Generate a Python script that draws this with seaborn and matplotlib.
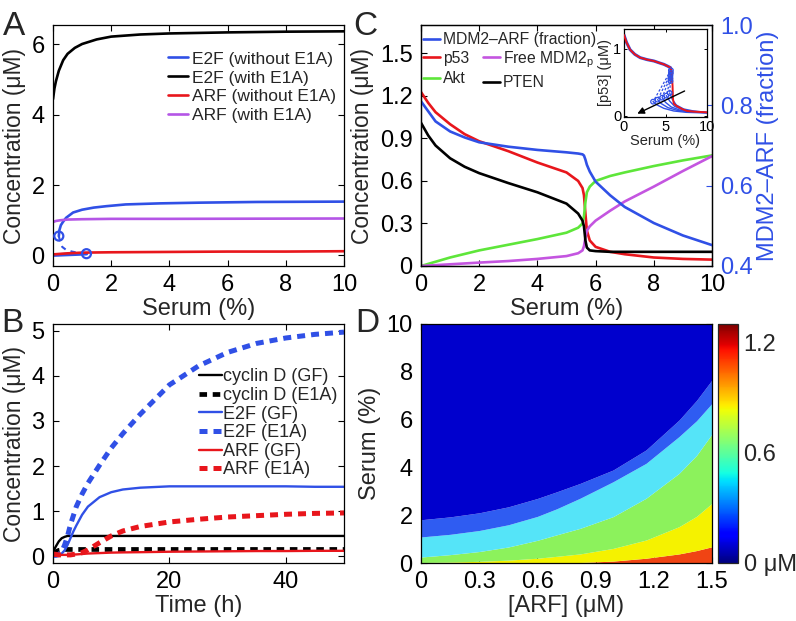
import matplotlib
matplotlib.use("Agg")
import matplotlib.pyplot as plt
import seaborn as sns
from matplotlib.cm import ScalarMappable
from matplotlib.colors import Normalize

BLUE = "#3050e6"
RED = "#e8161c"
BLACK = "#000000"
PURPLE = "#b455e6"
MAGENTA = "#c455e0"
GREEN = "#5ee63a"

# ---------------- panel A: steady state vs serum ----------------
A_E2F_E1A_X = [0, 0.05, 0.1, 0.2, 0.35, 0.5, 0.75, 1, 1.5, 2, 3, 4, 6, 8, 10]
A_E2F_E1A_Y = [4.44, 4.75, 4.95, 5.25, 5.55, 5.73, 5.9, 6.01, 6.14, 6.22, 6.28, 6.31, 6.34, 6.36, 6.37]
A_E2F_UP_X = [0.2, 0.22, 0.27, 0.34, 0.45, 0.69, 1.0, 1.4, 1.83, 2.5, 3.67, 5, 7, 10]
A_E2F_UP_Y = [0.55, 0.72, 0.86, 0.95, 1.07, 1.22, 1.3, 1.36, 1.4, 1.45, 1.48, 1.5, 1.52, 1.53]
A_E2F_MID_X = [0.2, 0.25, 0.32, 0.45, 0.65, 0.9, 1.15]
A_E2F_MID_Y = [0.55, 0.38, 0.24, 0.16, 0.11, 0.07, 0.05]
A_E2F_LOW_X = [0, 0.3, 0.6, 0.9, 1.15]
A_E2F_LOW_Y = [0.01, 0.02, 0.03, 0.04, 0.05]
A_KNEE_X = [0.2, 1.15]
A_KNEE_Y = [0.55, 0.05]
A_ARF_X = [0, 0.5, 1, 2, 4, 6, 8, 10]
A_ARF_Y = [0.03, 0.06, 0.08, 0.09, 0.1, 0.11, 0.11, 0.12]
A_ARF_E1A_X = [0, 0.1, 0.25, 0.5, 1, 2, 4, 10]
A_ARF_E1A_Y = [0.95, 0.98, 1.0, 1.02, 1.03, 1.04, 1.04, 1.05]

# ---------------- panel B: time courses ----------------
B_TIME = [0, 0.5, 1, 1.5, 2, 2.5, 3, 3.5, 4, 5, 6, 8, 10, 12, 15, 20, 25, 30, 35, 40, 45, 50]
B_CYCD_GF = [0.1, 0.22, 0.33, 0.4, 0.43, 0.45, 0.45, 0.45, 0.45, 0.45, 0.45, 0.45, 0.45, 0.45, 0.45, 0.45, 0.45, 0.45, 0.45, 0.45, 0.45, 0.45]
B_CYCD_E1A = [0.05, 0.1, 0.13, 0.14, 0.15, 0.15, 0.15, 0.15, 0.15, 0.15, 0.15, 0.15, 0.15, 0.15, 0.15, 0.15, 0.15, 0.15, 0.15, 0.15, 0.15, 0.15]
B_E2F_GF = [0.02, 0.02, 0.03, 0.06, 0.13, 0.25, 0.4, 0.55, 0.68, 0.92, 1.1, 1.31, 1.42, 1.48, 1.52, 1.55, 1.55, 1.55, 1.55, 1.55, 1.54, 1.54]
B_E2F_E1A = [0.02, 0.02, 0.04, 0.1, 0.25, 0.45, 0.7, 0.9, 1.1, 1.38, 1.62, 2.02, 2.4, 2.72, 3.15, 3.8, 4.22, 4.52, 4.72, 4.84, 4.92, 4.97]
B_ARF_GF = [0.02, 0.02, 0.02, 0.03, 0.03, 0.03, 0.04, 0.04, 0.04, 0.05, 0.06, 0.07, 0.08, 0.085, 0.09, 0.1, 0.105, 0.11, 0.115, 0.115, 0.12, 0.12]
B_ARF_E1A = [0.05, 0.04, 0.03, 0.03, 0.03, 0.03, 0.03, 0.04, 0.05, 0.08, 0.14, 0.3, 0.45, 0.56, 0.66, 0.76, 0.82, 0.87, 0.9, 0.93, 0.95, 0.96]

# ---------------- panel C: serum dependence ----------------
C_SERUM = [0, 0.25, 0.5, 1, 1.5, 2, 3, 4, 5, 5.4, 5.55, 5.6, 5.65, 5.7, 5.8, 6, 6.5, 7, 8, 9, 10]
C_P53 = [1.227, 1.15, 1.085, 1.0, 0.93, 0.88, 0.81, 0.73, 0.66, 0.6, 0.55, 0.5, 0.37, 0.25, 0.18, 0.135, 0.1, 0.083, 0.06, 0.05, 0.045]
C_PTEN = [1.01, 0.92, 0.85, 0.76, 0.7, 0.655, 0.585, 0.52, 0.44, 0.37, 0.32, 0.28, 0.18, 0.13, 0.11, 0.105, 0.1, 0.1, 0.1, 0.1, 0.1]
C_AKT = [0.0, 0.015, 0.03, 0.06, 0.085, 0.11, 0.15, 0.19, 0.235, 0.27, 0.3, 0.35, 0.45, 0.52, 0.56, 0.6, 0.635, 0.66, 0.705, 0.745, 0.78]
C_MDM2P = [0.0, 0.003, 0.006, 0.012, 0.018, 0.024, 0.035, 0.05, 0.07, 0.09, 0.11, 0.14, 0.2, 0.25, 0.28, 0.32, 0.39, 0.455, 0.56, 0.67, 0.775]
C_MDM2_ARF = [0.81, 0.785, 0.76, 0.735, 0.72, 0.708, 0.697, 0.689, 0.683, 0.68, 0.678, 0.675, 0.665, 0.652, 0.635, 0.61, 0.576, 0.547, 0.507, 0.476, 0.452]

# inset of C
INS_RED_X = [0, 0.3, 0.73, 1.3, 1.95, 2.8, 3.6, 4.3, 4.8, 5.3, 5.6, 5.75, 5.85, 5.9, 6.0, 6.4, 7.0, 7.6, 8.5, 10]
INS_RED_Y = [1.21, 1.1, 0.99, 0.92, 0.87, 0.84, 0.82, 0.79, 0.77, 0.74, 0.72, 0.65, 0.45, 0.25, 0.18, 0.14, 0.1, 0.07, 0.06, 0.05]
INS_UP_X = [0, 0.3, 0.73, 1.3, 1.95, 2.8, 3.6, 4.3, 4.8, 5.3, 5.6, 5.65, 5.65]
INS_UP_Y = [1.21, 1.1, 0.99, 0.92, 0.87, 0.84, 0.82, 0.79, 0.77, 0.74, 0.72, 0.68, 0.52]
INS_UPPER_KNEE_X = [5.65, 5.65, 5.6, 5.6, 5.6]
INS_UPPER_KNEE_Y = [0.68, 0.64, 0.6, 0.56, 0.52]
INS_LOWER_KNEE_X = [3.5, 4.05, 4.6, 5.1, 5.5]
INS_LOWER_KNEE_Y = [0.21, 0.24, 0.27, 0.3, 0.34]
INS_LOW_X = [
    [3.5, 4.0, 4.8, 6.0, 7.5, 10],
    [4.05, 4.5, 5.3, 6.4, 7.8, 10],
    [4.6, 5.0, 5.7, 6.7, 8.0, 10],
    [5.1, 5.5, 6.1, 7.0, 8.2, 10],
    [5.5, 5.8, 6.3, 7.2, 8.4, 10],
]
INS_LOW_Y = [
    [0.21, 0.16, 0.11, 0.07, 0.05, 0.04],
    [0.24, 0.18, 0.12, 0.08, 0.055, 0.045],
    [0.27, 0.2, 0.13, 0.085, 0.06, 0.045],
    [0.3, 0.22, 0.14, 0.09, 0.065, 0.05],
    [0.34, 0.25, 0.16, 0.1, 0.07, 0.05],
]

# ---------------- panel D: p53 contour bands ----------------
D_ARF = [0, 0.15, 0.3, 0.45, 0.6, 0.7, 0.82, 0.99, 1.16, 1.33, 1.42, 1.5]
# serum at which p53 crosses each level (negative = band absent)
D_B02 = [1.81, 1.93, 2.1, 2.35, 2.7, 2.98, 3.33, 3.89, 4.73, 5.98, 6.8, 7.66]
D_B04 = [1.09, 1.2, 1.36, 1.6, 1.95, 2.27, 2.71, 3.4, 4.17, 5.29, 5.95, 6.68]
D_B06 = [0.25, 0.35, 0.48, 0.67, 0.95, 1.18, 1.45, 1.94, 2.71, 3.75, 4.5, 5.4]
D_B08 = [0.02, 0.04, 0.07, 0.12, 0.2, 0.28, 0.38, 0.61, 0.96, 1.52, 1.95, 2.5]
D_B10 = [-0.1, -0.1, -0.1, -0.05, 0.0, 0.01, 0.02, 0.08, 0.2, 0.38, 0.52, 0.68]
# band colours, from the lowest-serum band (highest p53) to the top band
D_BAND_COLORS = ["#f04414", "#f5f200", "#8cf25c", "#55e4f8", "#2f5cf2", "#0000cd"]
D_VMAX = 1.3

W, H = 796, 621


def box(left, top, right, bottom):
    return [left / W, 1 - bottom / H, (right - left) / W, (bottom - top) / H]


def draw(ax, x, y, color, lw, label=None, dashes=None, zorder=2):
    sns.lineplot(x=x, y=y, ax=ax, color=color, linewidth=lw, label=label,
                 sort=False, estimator=None, legend=False, zorder=zorder)
    line = ax.lines[-1]
    if dashes is not None:
        line.set_dashes(dashes)
    return line


def circles(ax, x, y, size, lw):
    sns.scatterplot(x=x, y=y, ax=ax, s=size, legend=False, zorder=6)
    pts = ax.collections[-1]
    pts.set_facecolor("none")
    pts.set_edgecolor(BLUE)
    pts.set_linewidth(lw)


def style(ax, right=True):
    ax.tick_params(direction="in", top=True, right=right, length=4, width=0.8,
                   labelsize=17, pad=6, colors="black")
    for s in ax.spines.values():
        s.set_linewidth(0.9)
        s.set_color("black")


sns.set_theme(style="ticks")
plt.rcParams["font.family"] = ["Liberation Sans", "DejaVu Sans"]
plt.rcParams["mathtext.default"] = "regular"

fig = plt.figure(figsize=(W / 100, H / 100), dpi=100)

# ---- A ----
axA = fig.add_axes(box(53, 25, 344, 266))
draw(axA, A_E2F_UP_X, A_E2F_UP_Y, BLUE, 1.9, "E2F (without E1A)")
draw(axA, A_E2F_E1A_X, A_E2F_E1A_Y, BLACK, 1.9, "E2F (with E1A)")
draw(axA, A_E2F_MID_X, A_E2F_MID_Y, BLUE, 1.5, dashes=(2.5, 2.5))
draw(axA, A_E2F_LOW_X, A_E2F_LOW_Y, BLUE, 2.6)
draw(axA, A_ARF_X, A_ARF_Y, RED, 1.9, "ARF (without E1A)")
draw(axA, A_ARF_E1A_X, A_ARF_E1A_Y, PURPLE, 1.9, "ARF (with E1A)")
circles(axA, A_KNEE_X, A_KNEE_Y, 42, 1.6)
axA.set_xlim(0, 10)
axA.set_ylim(-0.3, 6.55)
axA.set_xticks([0, 2, 4, 6, 8, 10])
axA.set_yticks([0, 2, 4, 6])
style(axA)
axA.set_xlabel("Serum (%)", fontsize=17, labelpad=1)
axA.set_ylabel("Concentration (μM)", fontsize=16.5, labelpad=4)
hA = [l for l in axA.lines if not l.get_label().startswith("_")]
axA.legend(handles=hA, loc="center left", bbox_to_anchor=(0.395, 0.741),
           frameon=False, fontsize=12.5, handlelength=1.15, handletextpad=0.25,
           labelspacing=0.22, borderpad=0, borderaxespad=0)

# ---- B ----
axB = fig.add_axes(box(53, 324, 344, 563))
draw(axB, B_TIME, B_CYCD_GF, BLACK, 1.7, "cyclin D (GF)")
draw(axB, B_TIME, B_CYCD_E1A, BLACK, 3.4, "cyclin D (E1A)", dashes=(1.6, 1.2))
draw(axB, B_TIME, B_E2F_GF, BLUE, 1.7, "E2F (GF)")
draw(axB, B_TIME, B_E2F_E1A, BLUE, 3.6, "E2F (E1A)", dashes=(1.6, 1.2))
draw(axB, B_TIME, B_ARF_GF, RED, 1.7, "ARF (GF)")
draw(axB, B_TIME, B_ARF_E1A, RED, 3.6, "ARF (E1A)", dashes=(1.6, 1.2))
axB.set_xlim(0, 50)
axB.set_ylim(-0.15, 5.15)
axB.set_xticks([0, 20, 40])
axB.set_yticks([0, 1, 2, 3, 4, 5])
style(axB)
axB.set_xlabel("Time (h)", fontsize=17, labelpad=1)
axB.set_ylabel("Concentration (μM)", fontsize=16.5, labelpad=4)
axB.legend(loc="center left", bbox_to_anchor=(0.5, 0.584), frameon=False,
           fontsize=13, handlelength=1.3, handletextpad=0.08,
           labelspacing=0.09, borderpad=0, borderaxespad=0)

# ---- C ----
axC = fig.add_axes(box(421, 25, 712, 266))
axC2 = axC.twinx()
draw(axC, C_SERUM, C_P53, RED, 1.9, "p53")
draw(axC, C_SERUM, C_AKT, GREEN, 1.9, "Akt")
draw(axC, C_SERUM, C_MDM2P, MAGENTA, 1.9, "Free MDM2$_{p}$")
draw(axC, C_SERUM, C_PTEN, BLACK, 1.9, "PTEN")
mdm = draw(axC2, C_SERUM, C_MDM2_ARF, BLUE, 1.9, "MDM2–ARF (fraction)")
axC.set_xlim(0, 10)
axC.set_ylim(0, 1.7)
axC.set_xticks([0, 2, 4, 6, 8, 10])
axC.set_yticks([0, 0.3, 0.6, 0.9, 1.2, 1.5])
axC.set_yticklabels(["0", "0.3", "0.6", "0.9", "1.2", "1.5"])
axC2.set_ylim(0.4, 1.0)
axC2.set_yticks([0.4, 0.6, 0.8, 1.0])
axC2.set_yticklabels(["0.4", "0.6", "0.8", "1.0"])
style(axC, right=False)
axC2.tick_params(axis="y", direction="in", length=4, width=0.8, labelsize=17,
                 pad=6, colors=BLUE)
for s in axC2.spines.values():
    s.set_linewidth(0.9)
    s.set_color("black")
axC.set_xlabel("Serum (%)", fontsize=17, labelpad=1)
axC.set_ylabel("Concentration (μM)", fontsize=16.5, labelpad=4)
axC2.set_ylabel("MDM2–ARF (fraction)", fontsize=17, color=BLUE, labelpad=3)
leg1 = axC2.legend(handles=[mdm], loc="center left", bbox_to_anchor=(0.007, 0.938),
                   frameon=False, fontsize=11.3, handlelength=1.05, handletextpad=0.2,
                   borderpad=0, borderaxespad=0)
hC = axC.lines
axC2.legend(handles=[hC[0], hC[1], hC[2], hC[3]], ncol=2, loc="center left",
            bbox_to_anchor=(0.007, 0.815), frameon=False, fontsize=11.3,
            handlelength=1.05, handletextpad=0.2, labelspacing=0.35,
            columnspacing=0.9, borderpad=0, borderaxespad=0)
axC2.add_artist(leg1)

# inset
axI = fig.add_axes(box(624, 29, 707, 117))
draw(axI, INS_UP_X, INS_UP_Y, BLUE, 2.2)
for i in range(len(INS_LOW_X)):
    draw(axI, [INS_UPPER_KNEE_X[i], INS_LOWER_KNEE_X[i]],
         [INS_UPPER_KNEE_Y[i], INS_LOWER_KNEE_Y[i]], BLUE, 0.9, dashes=(2, 1.5))
    draw(axI, INS_LOW_X[i], INS_LOW_Y[i], BLUE, 1.0)
draw(axI, INS_RED_X, INS_RED_Y, RED, 1.4, zorder=3)
circles(axI, INS_UPPER_KNEE_X + INS_LOWER_KNEE_X, INS_UPPER_KNEE_Y + INS_LOWER_KNEE_Y, 11, 0.9)
axI.annotate("", xy=(1.6, 0.03), xytext=(7.3, 0.37),
             arrowprops=dict(arrowstyle="-|>", color="black", lw=1.0,
                             mutation_scale=10, shrinkA=0, shrinkB=0))
axI.set_xlim(0, 10)
axI.set_ylim(-0.02, 1.3)
axI.set_xticks([0, 5, 10])
axI.set_yticks([0, 1])
axI.tick_params(direction="in", top=True, right=True, length=2.5, width=0.7,
                labelsize=10.5, pad=2, colors="black")
for s in axI.spines.values():
    s.set_linewidth(0.9)
    s.set_color("black")
axI.set_facecolor("white")
axI.set_xlabel("Serum (%)", fontsize=10.5, labelpad=0)
axI.set_ylabel("[p53] (μM)", fontsize=10.5, labelpad=1)

# ---- D ----
axD = fig.add_axes(box(421, 324, 712, 563))
bounds = [D_B10, D_B08, D_B06, D_B04, D_B02]
top = [10.5] * len(D_ARF)
bottom = [-1.0] * len(D_ARF)
edges = [bottom] + bounds + [top]
for k in range(len(edges) - 1):
    axD.fill_between(D_ARF, edges[k], edges[k + 1], color=D_BAND_COLORS[k], linewidth=0)
axD.set_xlim(0, 1.5)
axD.set_ylim(0, 10)
axD.set_xticks([0, 0.3, 0.6, 0.9, 1.2, 1.5])
axD.set_xticklabels(["0", "0.3", "0.6", "0.9", "1.2", "1.5"])
axD.set_yticks([0, 2, 4, 6, 8, 10])
style(axD)
axD.set_xlabel("[ARF] (μM)", fontsize=17, labelpad=1)
axD.set_ylabel("Serum (%)", fontsize=17, labelpad=4)

cax = fig.add_axes(box(718, 324, 738, 563))
norm = Normalize(0, D_VMAX)
cb = fig.colorbar(ScalarMappable(norm=norm, cmap="jet"), cax=cax, ticks=[0, 0.6, 1.2])
cb.set_ticklabels(["0 μM", "0.6", "1.2"])
cb.outline.set_linewidth(0.9)
cax.tick_params(direction="in", length=3, width=0.7, labelsize=17, pad=4)

# panel letters
for letter, x, y in [("A", 3, 35), ("C", 353, 35), ("B", 1, 332), ("D", 355, 332)]:
    fig.text(x / W, 1 - y / H, letter, fontsize=24, va="baseline", ha="left")

fig.savefig("out.png", dpi=100)
